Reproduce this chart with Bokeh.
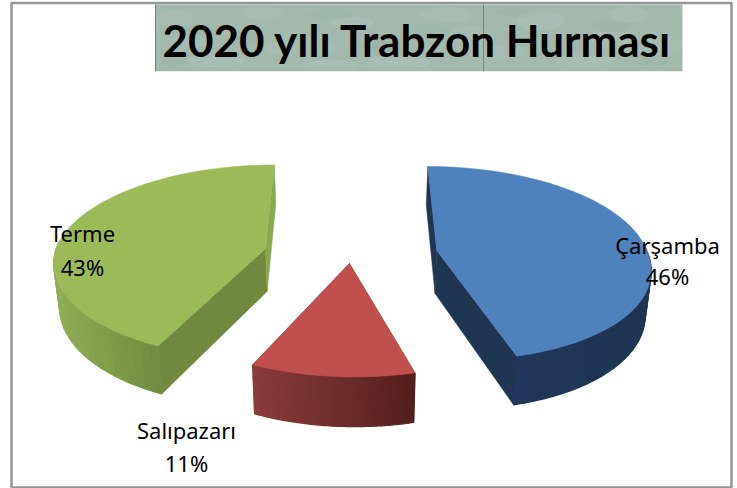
from bokeh.plotting import figure
from bokeh.models import Range1d
from bokeh.core.properties import value
from bokeh.embed import file_html
from bokeh.resources import INLINE
import numpy as np

categories = ["Çarşamba", "Salıpazarı", "Terme"]
shares = [46, 11, 43]
title_text = "2020 yılı Trabzon Hurması"

# Styling and layout of the perspective pie (not data)
top_colors = ["#4f81bd", "#c0504d", "#9bbb59"]
wall_start = ["#1f3552", "#6e2c2a", "#71893f"]
wall_end = ["#1f3552", "#6e2c2a", "#8aa84f"]
arc_left = ["#20365a", "#8a3b3b", "#8fae55"]
arc_right = ["#1f3552", "#521f1d", "#6f8a3f"]
offsets = [(0.405, 0.0), (-0.005, -0.137), (-0.40, 0.021)]
near_shear = [0.042, 0.024, 0.012]
label_pos = [(667, 244, 275), (186, 429, 462), (82, 232, 266)]
XC, YV, SPAN, A, K, T, SHRINK = 350.0, -560.0, 810.0, 213.0, 0.1157, 43.0, 0.98
RX, RY_NEAR = 0.985, 1.03

# mottling of the title plate: x, y, width, height, opacity
light_x = [175, 215, 262, 300, 352, 398, 446, 497, 540, 585, 628, 664, 190, 330, 470, 610]
light_y = [18, 60, 12, 48, 22, 62, 14, 52, 20, 60, 14, 46, 40, 64, 34, 38]
light_w = [36, 60, 40, 70, 44, 66, 52, 60, 48, 62, 40, 34, 40, 58, 44, 50]
light_h = [16, 12, 14, 18, 12, 14, 16, 14, 20, 12, 16, 22, 14, 10, 18, 14]
light_a = [0.14, 0.17, 0.12, 0.11, 0.15, 0.17, 0.14, 0.12, 0.15, 0.16, 0.15, 0.12, 0.09, 0.15, 0.1, 0.1]
dark_x = [200, 245, 330, 380, 430, 520, 565, 610, 650, 172]
dark_y = [30, 38, 14, 46, 30, 12, 44, 26, 60, 62]
dark_w = [50, 36, 48, 42, 38, 52, 44, 40, 36, 24]
dark_h = [10, 14, 10, 12, 12, 10, 14, 12, 10, 10]
dark_a = [0.07, 0.08, 0.06, 0.07, 0.06, 0.07, 0.06, 0.07, 0.06, 0.07]


def project(px, py, lower=False):
    d = 1 + K * py
    x = XC + A * px / d
    y = YV + SPAN / d
    if lower:
        x = XC + (x - XC) * SHRINK
        y = y + T / d
    return x, y


def mix(c1, c2, t):
    a = [int(c1[i:i + 2], 16) for i in (1, 3, 5)]
    b = [int(c2[i:i + 2], 16) for i in (1, 3, 5)]
    return "#%02x%02x%02x" % tuple(int(round(u + (v - u) * t)) for u, v in zip(a, b))


p = figure(width=737, height=488, output_backend="svg", toolbar_location=None,
           x_range=Range1d(0, 737), y_range=Range1d(488, 0),
           min_border=0, outline_line_color=None, background_fill_color="white",
           border_fill_color="white")
p.axis.visible = False
p.grid.visible = False

# frame and title plate
p.quad(left=[11], right=[731], top=[2.5], bottom=[487], fill_color=None,
       line_color="#959595", line_width=2.5)
p.quad(left=[155], right=[682], top=[4], bottom=[71], fill_color="#a3b9ae", line_color=None)
p.ellipse(x=light_x, y=light_y, width=light_w, height=light_h, fill_color="#c6d8ce",
          fill_alpha=light_a, line_color=None)
p.ellipse(x=dark_x, y=dark_y, width=dark_w, height=dark_h, fill_color="#7f9a8c",
          fill_alpha=dark_a, line_color=None)
p.segment(x0=[155, 483], x1=[155, 483], y0=[4, 4], y1=[71, 71], line_color="#6f8a7c", line_width=1)
p.quad(left=[155], right=[682], top=[71], bottom=[76], fill_color="white", line_color=None)

# slices
start = 0.0
for i, share in enumerate(shares):
    th0, th1 = start, start + 360.0 * share / sum(shares)
    start = th1
    ox, oy = offsets[i]
    th = np.radians(np.linspace(th0, th1, 61))
    near = np.maximum(0, -np.cos(th))
    px = ox + RX * np.sin(th) + near_shear[i] * near
    py = oy + np.cos(th) - (RY_NEAR - 1) * near
    tx, ty = project(px, py)
    bx, by = project(px, py, True)
    ax, ay = project(ox, oy)
    abx, aby = project(ox, oy, True)

    # radial walls
    p.patches([[ax, tx[0], bx[0], abx], [ax, tx[-1], bx[-1], abx]],
              [[ay, ty[0], by[0], aby], [ay, ty[-1], by[-1], aby]],
              fill_color=[wall_start[i], wall_end[i]], line_color=[wall_start[i], wall_end[i]], line_width=0.5)

    # curved wall, only its part that faces the viewer, shaded from left to right
    xs, ys, cols = [], [], []
    front = [j for j in range(len(th) - 1) if np.cos(th[j]) + np.cos(th[j + 1]) < 0.2]
    lo, hi = min(tx[front].min(), bx[front].min()), max(tx[front].max(), bx[front].max())
    for j in front:
        xs.append([tx[j], tx[j + 1], bx[j + 1], bx[j]])
        ys.append([ty[j], ty[j + 1], by[j + 1], by[j]])
        cols.append(mix(arc_left[i], arc_right[i], ((tx[j] + tx[j + 1]) / 2 - lo) / (hi - lo)))
    p.patches(xs, ys, fill_color=cols, line_color=cols, line_width=1.2)

    # top face
    p.patch(np.r_[ax, tx], np.r_[ay, ty], fill_color=top_colors[i], line_color=top_colors[i], line_width=0.5)

# labels
for i, name in enumerate(categories):
    lx, ly1, ly2 = label_pos[i]
    p.text([lx, lx], [ly1, ly2], text=[name, f"{shares[i]}%"], text_align="center", text_baseline="middle",
           text_font=value("Noto Sans"), text_font_size="22px", text_color="#000000")

p.text([417], [39], text=[title_text], text_align="center", text_baseline="middle",
       text_font=value("Lato"), text_font_style="bold", text_font_size="44px", text_color="#000000")

open("out.html", "w").write(file_html(p, INLINE))
